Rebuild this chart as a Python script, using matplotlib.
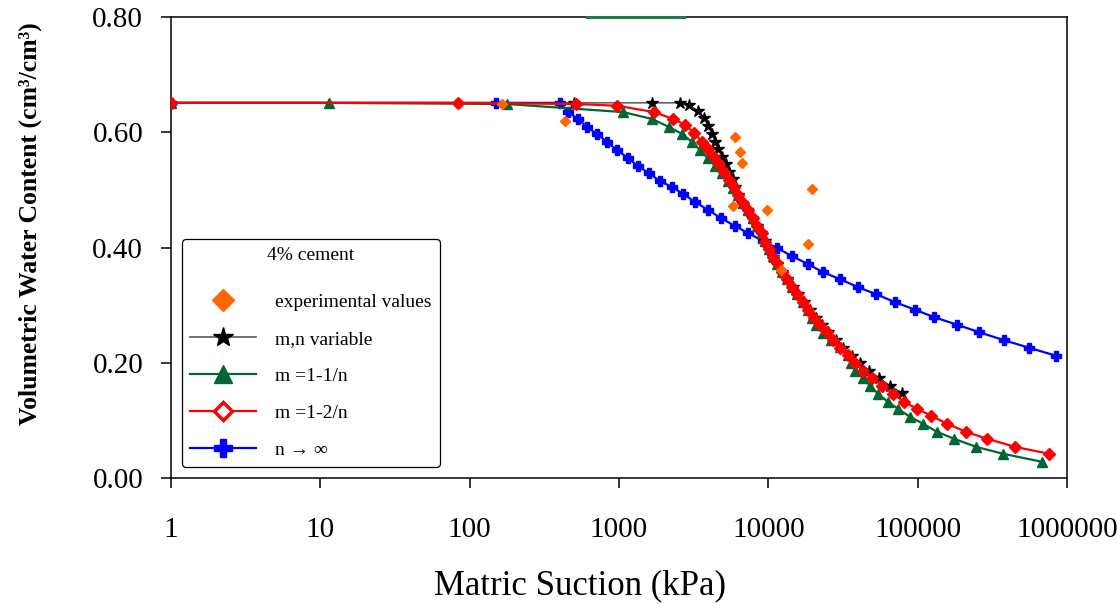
import matplotlib
matplotlib.use("Agg")
import matplotlib.pyplot as plt
from matplotlib.lines import Line2D

plt.rcParams['font.family'] = ['Liberation Serif', 'DejaVu Serif']

# ---------------- data ----------------
exp_x = [165, 435, 5995, 6475, 6680, 19650, 5810, 9820, 18480, 12190]
exp_y = [0.649, 0.620, 0.592, 0.566, 0.547, 0.502, 0.472, 0.465, 0.406, 0.361]

mn_x = [1, 500, 1667, 2567, 2950, 3389, 3716, 3952, 4206, 4402, 4613, 4909, 5214,
        5462, 5808, 5997, 6281, 6680, 7210, 7787, 8414, 8950, 9527, 10120, 10770,
        11460, 12370, 13370, 14660, 15840, 17370, 19060, 20900, 22920, 25160,
        28450, 31700, 36390, 41210, 47330, 55210, 65450, 78730]
mn_y = [0.651, 0.651, 0.651, 0.651, 0.647, 0.637, 0.625, 0.611, 0.597, 0.583, 0.571,
        0.557, 0.545, 0.531, 0.519, 0.505, 0.491, 0.477, 0.465, 0.451, 0.437, 0.425,
        0.411, 0.397, 0.384, 0.371, 0.357, 0.345, 0.331, 0.319, 0.305, 0.292, 0.278,
        0.266, 0.253, 0.239, 0.226, 0.212, 0.200, 0.186, 0.174, 0.160, 0.1475]

m1_x = [1, 11.4, 178, 1065, 1667, 2166, 2648, 3088, 3492, 3952, 4402, 4909, 5380,
        5808, 6281, 6776, 7328, 7907, 8414, 9080, 9527, 10120, 10770, 11460, 12370,
        13370, 14430, 15590, 17100, 18480, 19650, 20900, 23280, 26370, 30270, 34220,
        35890, 38110, 43160, 48080, 54330, 63410, 73960, 89080, 108900, 135100,
        175500, 246600, 374100, 682000]
m1_y = [0.651, 0.651, 0.649, 0.635, 0.623, 0.609, 0.597, 0.583, 0.569, 0.555, 0.541,
        0.529, 0.515, 0.503, 0.491, 0.477, 0.465, 0.451, 0.437, 0.425, 0.411, 0.397,
        0.385, 0.371, 0.357, 0.345, 0.331, 0.319, 0.305, 0.292, 0.278, 0.266, 0.252,
        0.239, 0.227, 0.213, 0.200, 0.186, 0.174, 0.160, 0.146, 0.132, 0.120, 0.106,
        0.094, 0.080, 0.068, 0.054, 0.042, 0.028]

m2_x = [1, 84, 516, 971, 1718, 2303, 2773, 3185, 3603, 3952, 4333, 4680, 5058, 5462,
        5902, 6281, 6776, 7328, 7907, 8414, 9080, 9527, 10120, 10770, 11460, 12370,
        13370, 14430, 15590, 17100, 18480, 20270, 22230, 24770, 27180, 30270, 34220,
        38110, 43160, 49540, 57810, 68540, 81230, 99300, 123100, 157700, 211300,
        292300, 449600, 760000]
m2_y = [0.651, 0.651, 0.649, 0.646, 0.635, 0.623, 0.613, 0.599, 0.583, 0.571, 0.557,
        0.545, 0.531, 0.517, 0.505, 0.491, 0.477, 0.465, 0.451, 0.437, 0.425, 0.410,
        0.397, 0.384, 0.373, 0.357, 0.345, 0.331, 0.319, 0.305, 0.292, 0.278, 0.266,
        0.253, 0.239, 0.226, 0.213, 0.200, 0.186, 0.174, 0.160, 0.146, 0.132, 0.120,
        0.108, 0.094, 0.080, 0.068, 0.054, 0.042]

ninf_x = [1, 150, 403, 456, 532, 611, 713, 832, 971, 1151, 1343, 1591, 1884, 2268,
          2687, 3234, 3951, 4828, 5997, 7328, 9228, 11455, 14430, 18480, 23280,
          30270, 39930, 52720, 70630, 96150, 129000, 184000, 258000, 380000,
          558000, 847000]
ninf_y = [0.651, 0.651, 0.651, 0.635, 0.623, 0.609, 0.597, 0.583, 0.569, 0.555,
          0.541, 0.529, 0.515, 0.505, 0.493, 0.479, 0.465, 0.451, 0.437, 0.425,
          0.411, 0.399, 0.385, 0.371, 0.357, 0.345, 0.331, 0.319, 0.305, 0.292,
          0.279, 0.266, 0.253, 0.239, 0.226, 0.212]

x_ticks = [1, 10, 100, 1000, 10000, 100000, 1000000]
x_tick_labels = ['1', '10', '100', '1000', '10000', '100000', '1000000']
y_ticks = [0.0, 0.2, 0.4, 0.6, 0.8]
y_tick_labels = ['0.00', '0.20', '0.40', '0.60', '0.80']

labels = ['experimental values', 'm,n variable', 'm =1-1/n', 'm =1-2/n', 'n \u2192 \u221e']
legend_title = '4% cement'

# ---------------- style ----------------
c_exp = '#FF6600'
c_mn = '#000000'
c_m1 = '#006633'
c_m2 = '#FF0000'
c_inf = '#0000FF'

fig = plt.figure(figsize=(11.18, 6.04), dpi=100)
ax = fig.add_axes([171/1118, 1 - 478/604, (1067-171)/1118, (478-17)/604])

ax.plot(ninf_x, ninf_y, color=c_inf, lw=1.6, marker='P', ms=7.5, mec=c_inf,
        mfc=c_inf, zorder=3)
ax.plot(mn_x, mn_y, color='#333333', lw=0.9, marker=None, zorder=4)
ax.plot(mn_x[1:], mn_y[1:], ls='none', marker='*', ms=9, color=c_mn, zorder=4)
ax.plot(m1_x, m1_y, color=c_m1, lw=1.6, marker='^', ms=7, zorder=5)
ax.plot(m2_x, m2_y, color=c_m2, lw=1.6, marker='D', ms=6, zorder=6)
ax.plot(exp_x, exp_y, ls='none', marker='D', ms=5.5, color=c_exp, zorder=7)

ax.set_xscale('log')
ax.set_xlim(1, 1e6)
ax.set_ylim(0, 0.8)
ax.set_xticks(x_ticks)
ax.set_xticklabels(x_tick_labels)
ax.xaxis.set_minor_locator(matplotlib.ticker.NullLocator())
ax.set_yticks(y_ticks)
ax.set_yticklabels(y_tick_labels)
ax.tick_params(axis='x', which='major', direction='out', length=7, width=1.1,
               pad=21, labelsize=21, top=False)
ax.tick_params(axis='y', which='major', direction='out', length=7, width=1.1,
               pad=13, labelsize=21, right=False)
for s in ax.spines.values():
    s.set_linewidth(1.1)

# small green artefact on the top frame
ax.axhline(0.8, xmin=0.464, xmax=0.573, color='#1f7a50', lw=2.2, zorder=10,
           clip_on=False)

ax.set_xlabel('Matric Suction (kPa)', fontsize=25)
ax.xaxis.set_label_coords(0.456, -0.198)
ax.set_ylabel('Volumetric Water Content (cm\u00b3/cm\u00b3)', fontsize=18.5,
              fontweight='bold')
ax.yaxis.set_label_coords(-0.144, 0.551)

handles = [
    Line2D([], [], ls='none', marker='D', ms=11, color=c_exp),
    Line2D([], [], color='#555555', lw=1.2, marker='*', ms=15, mfc='black', mec='black'),
    Line2D([], [], color=c_m1, lw=1.6, marker='^', ms=13, mfc=c_m1, mec=c_m1),
    Line2D([], [], color=c_m2, lw=1.6, marker='D', ms=9, mfc='white', mec=c_m2, mew=2.5),
    Line2D([], [], color=c_inf, lw=1.6, marker='P', ms=13, mfc=c_inf, mec=c_inf),
]
leg = ax.legend(handles, labels, title=legend_title, loc='lower left',
                bbox_to_anchor=(0.0123, 0.0239), borderaxespad=0, fontsize=14,
                title_fontsize=14, frameon=True, fancybox=True, edgecolor='black',
                framealpha=1, handlelength=3.4, handletextpad=1.0,
                labelspacing=1.0, borderpad=0.4)
leg.get_frame().set_linewidth(0.9)
leg._legend_box.sep = 21
leg.set_zorder(20)

fig.savefig('out.png', dpi=100)
